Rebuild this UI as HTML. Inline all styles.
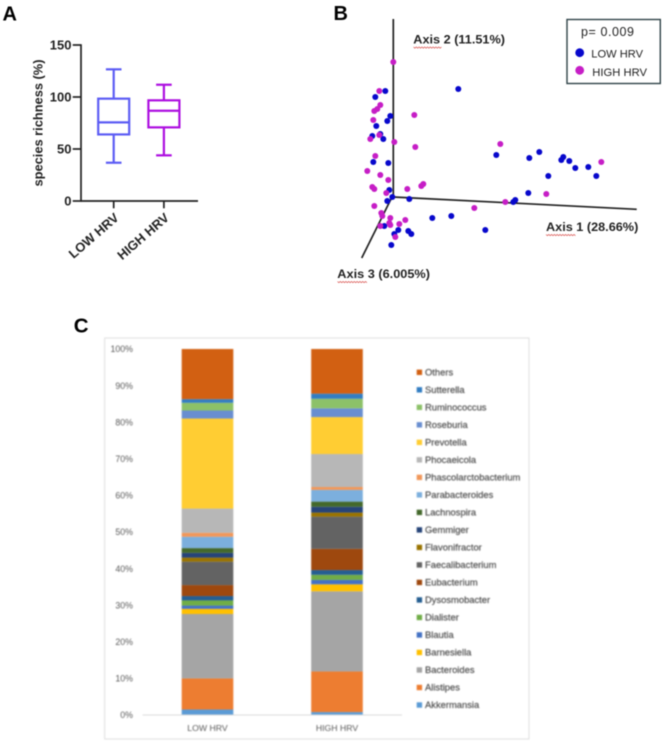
<!DOCTYPE html>
<html lang="en">
<head>
<meta charset="utf-8">
<title>HRV microbiome figure</title>
<style>
html,body{margin:0;padding:0;background:#fff;}
#figure{display:block;width:669px;height:745px;font-family:"Liberation Sans",Arial,sans-serif;}
#panel-a,#panel-b{filter:blur(.6px);}
#panel-c{filter:blur(.7px);}
#label-c{filter:blur(.5px);}
</style>
</head>
<body>
<svg id="figure" xmlns="http://www.w3.org/2000/svg" width="669" height="745" viewBox="0 0 669 745">
  <rect x="0" y="0" width="669" height="745" fill="#fff"/>
  <g id="panel-a">
    <text x="2.5" y="20.7" font-size="20" font-weight="700" fill="#000">A</text>
    <text transform="translate(42.5,123) rotate(-90)" text-anchor="middle" font-size="12.5" font-weight="700" fill="#222" textLength="127" lengthAdjust="spacingAndGlyphs">species richness (%)</text>
  </g>
  <g id="panel-b">
    <text x="333.5" y="20" font-size="20" font-weight="700" fill="#000">B</text>
    <line x1="393.3" y1="19" x2="393.3" y2="197" stroke="#222" stroke-width="1.7"/>
    <line x1="393.3" y1="197" x2="636.7" y2="209.3" stroke="#222" stroke-width="1.7"/>
    <line x1="392" y1="197" x2="361.7" y2="258" stroke="#222" stroke-width="1.7"/>
    <g id="scatter"></g>
    <text x="413.3" y="43.7" font-size="11.5" font-weight="700" fill="#222" textLength="91.7" lengthAdjust="spacingAndGlyphs">Axis 2 (11.51%)</text>
    <text x="546" y="231" font-size="11.5" font-weight="700" fill="#222" textLength="92.3" lengthAdjust="spacingAndGlyphs">Axis 1 (28.66%)</text>
    <text x="337.3" y="278" font-size="11.5" font-weight="700" fill="#222" textLength="92.7" lengthAdjust="spacingAndGlyphs">Axis 3 (6.005%)</text>
    <path id="wavy-2" fill="none" stroke="#d9534f" stroke-width=".7"/>
    <path id="wavy-1" fill="none" stroke="#d9534f" stroke-width=".7"/>
    <path id="wavy-3" fill="none" stroke="#d9534f" stroke-width=".7"/>
    <g>
      <rect x="567" y="19.5" width="93.3" height="64" fill="#fff" stroke="#2f4348" stroke-width="1.4"/>
      <text x="581" y="36" font-size="12.5" fill="#222" textLength="53" lengthAdjust="spacing">p= 0.009</text>
      <circle cx="579.7" cy="52.7" r="4.4" fill="#0808cc"/>
      <text x="591.3" y="57.3" font-size="11" fill="#222" textLength="51.7" lengthAdjust="spacingAndGlyphs">LOW HRV</text>
      <circle cx="579.7" cy="70.3" r="4.4" fill="#c61ec6"/>
      <text x="592.3" y="76" font-size="11" fill="#222" textLength="54.7" lengthAdjust="spacingAndGlyphs">HIGH HRV</text>
    </g>
  </g>
  <text id="label-c" x="73.8" y="332.6" font-size="20.5" font-weight="700" fill="#000">C</text>
  <g id="panel-c">
    <rect x="104.7" y="338" width="424.3" height="401" fill="#fff" stroke="#dedede" stroke-width="1"/>
  </g>
</svg>
<script>
// Panel A data
var boxGroups = ['LOW HRV', 'HIGH HRV'];
var boxMin = [36.8, 43.9];
var boxQ1 = [64, 70.8];
var boxMedian = [75.6, 86.8];
var boxQ3 = [98.4, 96.8];
var boxMax = [126.6, 111.8];
var boxTicks = [0, 50, 100, 150];

// Panel B data (ordination scores)
var lowAxis1 = [-0.08,-0.18,0.65,-0.03,-0.06,-0.17,-0.21,-0.13,-0.10,-0.20,-0.05,1.03,1.36,1.46,1.70,1.68,1.76,1.82,1.95,2.03,1.55,1.35,1.22,1.20,-0.04,-0.01,-0.06,0.16,0.39,0.58,0.92,-0.09,0.05,0.01,0.15,0.18,-0.02];
var lowAxis2 = [1.06,1.00,1.08,0.81,0.76,0.71,0.61,0.63,0.58,0.35,0.34,0.42,0.39,0.45,0.40,0.37,0.36,0.29,0.30,0.21,0.21,0.04,-0.03,-0.05,0.07,0.00,-0.04,-0.02,-0.21,-0.19,-0.33,-0.29,-0.33,-0.37,-0.34,-0.37,-0.48];
var highAxis1 = [0,-0.14,-0.13,-0.16,-0.19,0.21,-0.20,-0.14,-0.23,0.01,0.22,1.07,-0.18,-0.26,-0.13,-0.05,-0.21,-0.19,-0.07,0.14,0.30,0.28,-0.19,-0.12,-0.11,-0.03,0.12,0.06,-0.04,-0.03,-0.13,0.02,0.81,1.12,1.53,2.08];
var highAxis2 = [1.35,1.06,0.92,0.88,0.86,0.82,0.77,0.62,0.58,0.55,0.50,0.53,0.41,0.26,0.22,0.17,0.10,0.08,0.04,0.08,0.13,0.11,-0.09,-0.16,-0.19,-0.21,-0.23,-0.27,-0.26,-0.28,-0.29,-0.40,-0.11,-0.05,0.03,0.35];

// Panel C data (stacked bottom to top)
var barCategories = ['LOW HRV', 'HIGH HRV'];
var taxa = ['Akkermansia','Alistipes','Bacteroides','Barnesiella','Blautia','Dialister','Dysosmobacter','Eubacterium','Faecalibacterium','Flavonifractor','Gemmiger','Lachnospira','Parabacteroides','Phascolarctobacterium','Phocaeicola','Prevotella','Roseburia','Ruminococcus','Sutterella','Others'];
var lowHrvShare = [1.5,8.5,17.6,1.4,0.9,1.4,1.2,3.0,6.4,1.1,1.3,1.3,3.1,1.1,6.6,24.6,2.2,2.1,1.0,13.7];
var highHrvShare = [0.8,11.1,21.9,1.9,1.2,1.4,1.3,5.8,8.8,1.1,1.6,1.4,3.2,0.8,9.0,10.1,2.4,2.6,1.4,12.2];
var percentTicks = [0,10,20,30,40,50,60,70,80,90,100];

var palette = ['#5b9bd5','#ed7d31','#a5a5a5','#ffc000','#4472c4','#70ad47','#255e91','#9e480e','#636363','#997300','#264478','#43682b','#7cafdd','#f1975a','#b7b7b7','#ffcd33','#698ed0','#8cc168','#327dc2','#d26012'];

var NS = 'http://www.w3.org/2000/svg';
function make(tag, parent, props, text) {
  var el = document.createElementNS(NS, tag);
  for (var k in props) { el.setAttribute(k, props[k]); }
  if (text !== undefined) { el.textContent = text; }
  parent.appendChild(el);
  return el;
}
function slug(s) { return String(s).toLowerCase().replace(/[^a-z0-9]+/g, '-'); }

// ---------- Panel A ----------
var panelA = document.getElementById('panel-a');
function boxY(v) { return 201 - v * 1.04; }
function boxX(i) { return 113.7 + i * 50.2; }
var boxColors = ['#5c5cf4', '#ad0fe0'];
var el;
el = make('line', panelA, {x1: 81, y1: boxY(150) - 0.8, x2: 81, y2: 201.8, stroke: '#222', 'stroke-width': 1.7});


el = make('line', panelA, {x1: 81, y1: 201, x2: 198, y2: 201, stroke: '#222', 'stroke-width': 1.7});


boxTicks.forEach(function (t) {
  var tick = make('line', panelA, {x1: 72.7, y1: boxY(t), x2: 81, y2: boxY(t), stroke: '#222', 'stroke-width': 1.7});
  
  
  var lab = make('text', panelA, {x: 71.5, y: boxY(t) + 4.6, 'text-anchor': 'end', 'font-size': 13, 'font-weight': 700, fill: '#222'}, t);
  
  
});
boxGroups.forEach(function (g, i) {
  var cx = boxX(i), c = boxColors[i], w = 2.2;
  var tick = make('line', panelA, {x1: cx, y1: 201, x2: cx, y2: 208.3, stroke: '#222', 'stroke-width': 1.7});
  
  
  var lab = make('text', panelA, {transform: 'translate(' + (cx + 6) + ',219) rotate(-41)', 'text-anchor': 'end', 'font-size': 13, 'font-weight': 700, fill: '#222'}, g);
  
  
  var upper = make('line', panelA, {x1: cx, y1: boxY(boxMax[i]), x2: cx, y2: boxY(boxQ3[i]), stroke: c, 'stroke-width': w});
  
  
  var lower = make('line', panelA, {x1: cx, y1: boxY(boxQ1[i]), x2: cx, y2: boxY(boxMin[i]), stroke: c, 'stroke-width': w});
  
  
  var capT = make('line', panelA, {x1: cx - 7.8, y1: boxY(boxMax[i]), x2: cx + 7.8, y2: boxY(boxMax[i]), stroke: c, 'stroke-width': w});
  
  
  var capB = make('line', panelA, {x1: cx - 7.8, y1: boxY(boxMin[i]), x2: cx + 7.8, y2: boxY(boxMin[i]), stroke: c, 'stroke-width': w});
  
  
  var box = make('rect', panelA, {x: cx - 15.5, y: boxY(boxQ3[i]), width: 31, height: boxY(boxQ1[i]) - boxY(boxQ3[i]), fill: '#fff', stroke: c, 'stroke-width': w});
  
  
  var med = make('line', panelA, {x1: cx - 15.5, y1: boxY(boxMedian[i]), x2: cx + 15.5, y2: boxY(boxMedian[i]), stroke: c, 'stroke-width': w});
  
  
});

// ---------- Panel B ----------
var scatter = document.getElementById('scatter');
function scoreX(v) { return 393.3 + v * 100; }
function scoreY(v) { return 197 - v * 100; }
lowAxis1.forEach(function (v, i) {
  var p = make('circle', scatter, {cx: scoreX(v), cy: scoreY(lowAxis2[i]), r: 3, fill: '#0808cc'});
  
  
});
highAxis1.forEach(function (v, i) {
  var p = make('circle', scatter, {cx: scoreX(v), cy: scoreY(highAxis2[i]), r: 3, fill: '#c61ec6'});
  
  
});
function wavy(id, x0, x1, y) {
  var d = 'M' + x0 + ' ' + y, up = true;
  for (var x = x0; x < x1; x += 1.4) {
    d += 'L' + (x + 1.4).toFixed(1) + ' ' + (up ? y + 1.2 : y);
    up = !up;
  }
  document.getElementById(id).setAttribute('d', d);
}
wavy('wavy-2', 413.5, 441, 47);
wavy('wavy-1', 546, 574, 234.5);
wavy('wavy-3', 337.5, 366, 281.5);

// ---------- Panel C ----------
var panelC = document.getElementById('panel-c');
function pctY(v) { return 715 - v * 3.66; }
function catX(i) { return 207.5 + i * 129.5; }
var shares = [lowHrvShare, highHrvShare];
percentTicks.forEach(function (t) {
  var lab = make('text', panelC, {x: 133, y: pctY(t) + 3.2, 'text-anchor': 'end', 'font-size': 8.8, fill: '#595959'}, t + '%');
  
  
});
barCategories.forEach(function (cat, i) {
  var acc = 0;
  shares[i].forEach(function (v, j) {
    var seg = make('rect', panelC, {x: catX(i) - 25.8, y: pctY(acc + v), width: 51.6, height: v * 3.66, fill: palette[j]});
    
    
    acc += v;
  });
  var lab = make('text', panelC, {x: catX(i), y: 731, 'text-anchor': 'middle', 'font-size': 8.7, fill: '#595959'}, cat);
  
  
});
el = make('line', panelC, {x1: 142.7, y1: 715, x2: 402, y2: 715, stroke: '#d9d9d9', 'stroke-width': 1});


taxa.forEach(function (name, j) {
  var y = 705 - j * 17.51;
  var sw = make('rect', panelC, {x: 416.7, y: y - 2.7, width: 5.4, height: 5.4, fill: palette[j]});
  
  
  var lab = make('text', panelC, {x: 425, y: y + 3.2, 'font-size': 9.4, fill: '#484848', stroke: '#484848', 'stroke-width': 0.15}, name);
  
  
});
</script>
</body>
</html>
